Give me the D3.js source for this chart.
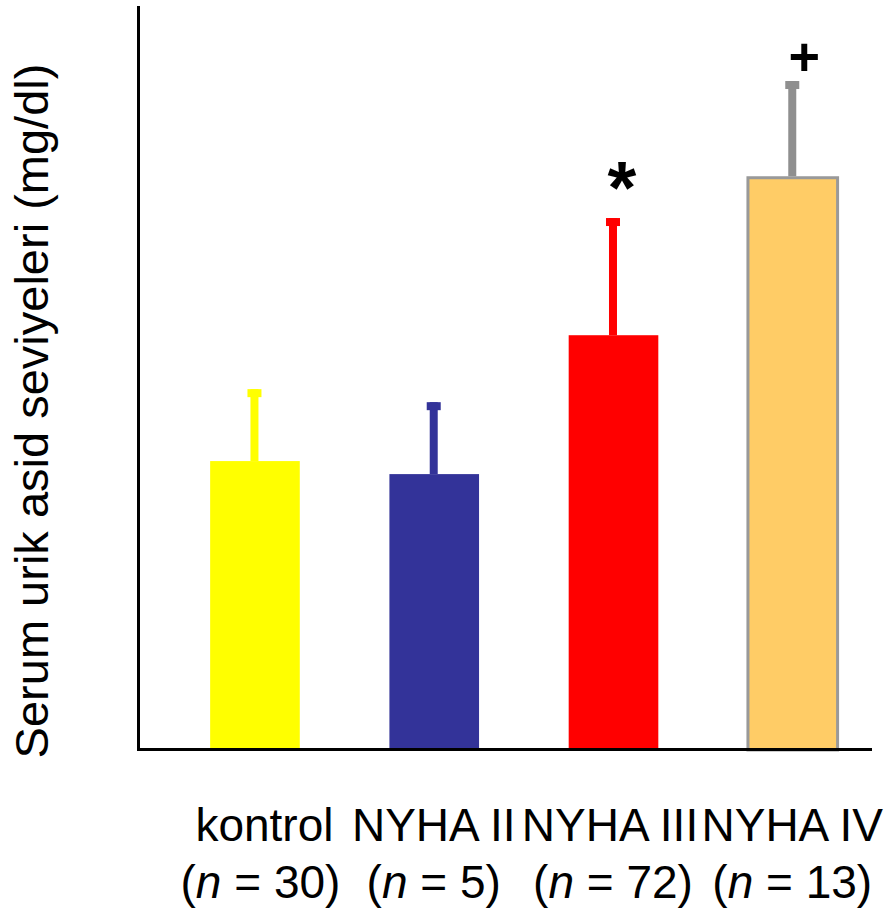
<!DOCTYPE html>
<html><head><meta charset="utf-8">
<script src="https://cdn.jsdelivr.net/npm/d3@7"></script>
<style>body{margin:0;background:#fff}svg{display:block}text{font-family:"Liberation Sans",Arial,sans-serif}</style>
</head><body>
<svg id="c" width="890" height="913"></svg>
<script>
const categories = ["kontrol", "NYHA II", "NYHA III", "NYHA IV"];
const groupN = [30, 5, 72, 13];
const means = [4.66, 4.45, 6.69, 9.23];
const errTops = [5.82, 5.61, 8.58, 10.79];
const marks = ["", "", "*", "+"];
const fills = ["#FFFF00", "#333399", "#FF0000", "#FFCC66"];
const errColors = ["#FFFF00", "#333399", "#FF0000", "#8F8F8F"];
const yLabel = "Serum urik asid seviyeleri (mg/dl)";

const svg = d3.select("#c");
const x = d3.scaleBand().domain(categories).range([137, 872]).paddingInner(0.5).paddingOuter(0.3).align(0.68);
const y = d3.scaleLinear().domain([0, 12]).range([750, 6]);

// bars
svg.selectAll("rect.bar").data(categories).join("rect")
  .attr("class","bar")
  .attr("x", d => x(d)).attr("width", x.bandwidth())
  .attr("y", (d,i) => y(means[i])).attr("height", (d,i) => y(0) - y(means[i]))
  .attr("fill", (d,i) => fills[i])
  .attr("stroke", (d,i) => i === 3 ? "#999999" : "none")
  .attr("stroke-width", 3);

// error bars
const cx = d => x(d) + x.bandwidth()/2 - 0.5;
svg.selectAll("line.err").data(categories).join("line")
  .attr("x1", cx).attr("x2", cx)
  .attr("y1", (d,i) => y(means[i]) - (i===3?1.5:0)).attr("y2", (d,i) => y(errTops[i]))
  .attr("stroke", (d,i) => errColors[i]).attr("stroke-width", 8);
svg.selectAll("rect.cap").data(categories).join("rect")
  .attr("x", d => cx(d) - 7).attr("width", 14)
  .attr("y", (d,i) => y(errTops[i])).attr("height", 8)
  .attr("fill", (d,i) => errColors[i]);

// significance marks
svg.selectAll("text.mark").data(categories).join("text")
  .attr("text-anchor","middle")
  .attr("x", (d,i) => cx(d) + (i===2 ? 9 : 12))
  .attr("y", (d,i) => i===2 ? y(errTops[i]) - 5 : y(errTops[i]) - 6)
  .attr("font-size", (d,i) => i===2 ? 74 : 54)
  .attr("font-weight","bold")
  .text((d,i) => marks[i]);

// axes
svg.append("line").attr("x1",138.5).attr("x2",138.5).attr("y1",6).attr("y2",751).attr("stroke","#000").attr("stroke-width",3);
svg.append("line").attr("x1",137).attr("x2",872).attr("y1",749.5).attr("y2",749.5).attr("stroke","#000").attr("stroke-width",3);

// category labels
const lbl = svg.append("g").attr("font-size",46).attr("text-anchor","middle");
lbl.selectAll("text.c").data(categories).join("text")
  .attr("x", (d,i) => cx(d) + [10, 0, -3, 0][i]).attr("y", 841).text(d => d);
const nl = lbl.selectAll("text.n").data(categories).join("text")
  .attr("x", (d,i) => cx(d) + (i===0 ? 6 : 0)).attr("y", 898);
nl.append("tspan").text("(");
nl.append("tspan").attr("font-style","italic").text("n");
nl.append("tspan").text((d,i) => " = " + groupN[i] + ")");

// y label
svg.append("text").attr("transform","translate(48,411) rotate(-90)")
  .attr("text-anchor","middle").attr("font-size",47).text(yLabel);
</script>
</body></html>
